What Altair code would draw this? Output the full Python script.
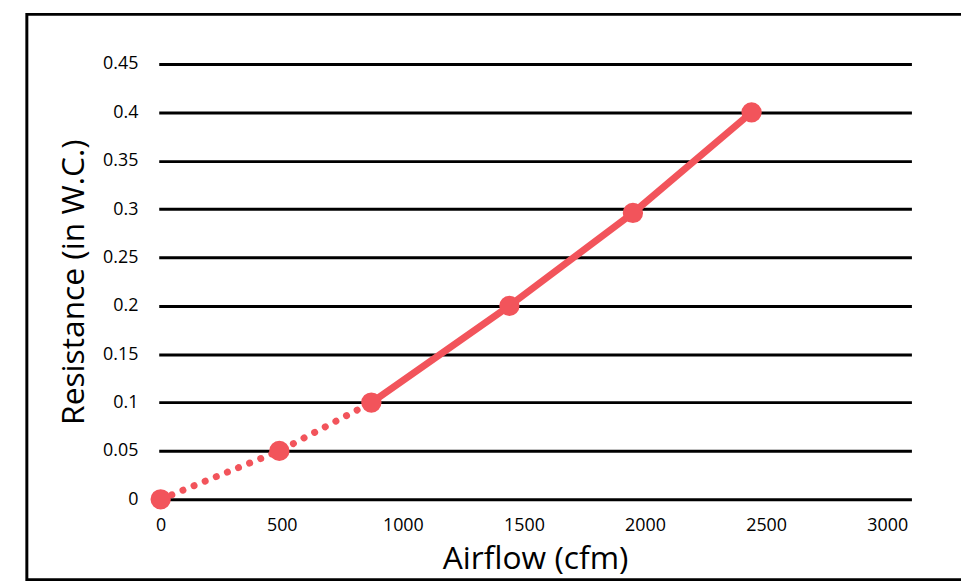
import altair as alt
import pandas as pd

airflow = [0, 490, 870, 1440, 1950, 2440]
resistance = [0.0, 0.05, 0.1, 0.2, 0.296, 0.4]
segment = ["dotted", "dotted", "both", "solid", "solid", "solid"]
y_ticks = [0, 0.05, 0.1, 0.15, 0.2, 0.25, 0.3, 0.35, 0.4, 0.45]
x_ticks = [0, 500, 1000, 1500, 2000, 2500, 3000]

df = pd.DataFrame({"airflow": airflow, "resistance": resistance, "segment": segment})
RED = "#F2545B"
FONT = "Open Sans"

x = alt.X("airflow:Q", scale=alt.Scale(domain=[-8, 3100], nice=False, zero=False),
          axis=alt.Axis(title="Airflow (cfm)", values=x_ticks, grid=False, domain=False,
                        ticks=False, labelPadding=17, labelFontSize=18, titleFontSize=32,
                        titleFontWeight="normal", titlePadding=10, labelFont=FONT,
                        titleFont=FONT, labelColor="black", titleColor="black",
                        labelOverlap=False, format="d"))
y = alt.Y("resistance:Q", scale=alt.Scale(domain=[0, 0.45], nice=False),
          axis=alt.Axis(title="Resistance (in W.C.)", values=y_ticks, grid=True,
                        gridColor="black", gridWidth=3, gridOpacity=1, domain=False,
                        ticks=False, labelPadding=21, labelFontSize=18, titleFontSize=32,
                        titleFontWeight="normal", titlePadding=12, labelFont=FONT,
                        titleFont=FONT, labelColor="black", titleColor="black",
                        labelOverlap=False, format="~g"))

base = alt.Chart(df)

dotted = base.transform_filter("datum.segment != 'solid'").mark_line(
    color=RED, strokeWidth=7, strokeDash=[0.1, 12], strokeCap="round"
).encode(x=x, y=y)

solid = base.transform_filter("datum.segment != 'dotted'").mark_line(
    color=RED, strokeWidth=7
).encode(x=x, y=y)

pts = base.mark_circle(color=RED, size=420, opacity=1).encode(x=x, y=y)

frame = alt.Chart(pd.DataFrame({"a": [0]})).mark_rect(
    fill=None, stroke="black", strokeWidth=3
).encode(x=alt.value(-133), x2=alt.value(815), y=alt.value(-50), y2=alt.value(520))

chart = alt.layer(frame, dotted, solid, pts).properties(
    width=759, height=439,
    autosize=alt.AutoSizeParams(type="none"),
    padding={"left": 152, "top": 54, "right": 50, "bottom": 85},
).configure(background="white").configure_view(stroke=None)

chart.save("out.html", embed_options={"renderer": "svg", "actions": False})
